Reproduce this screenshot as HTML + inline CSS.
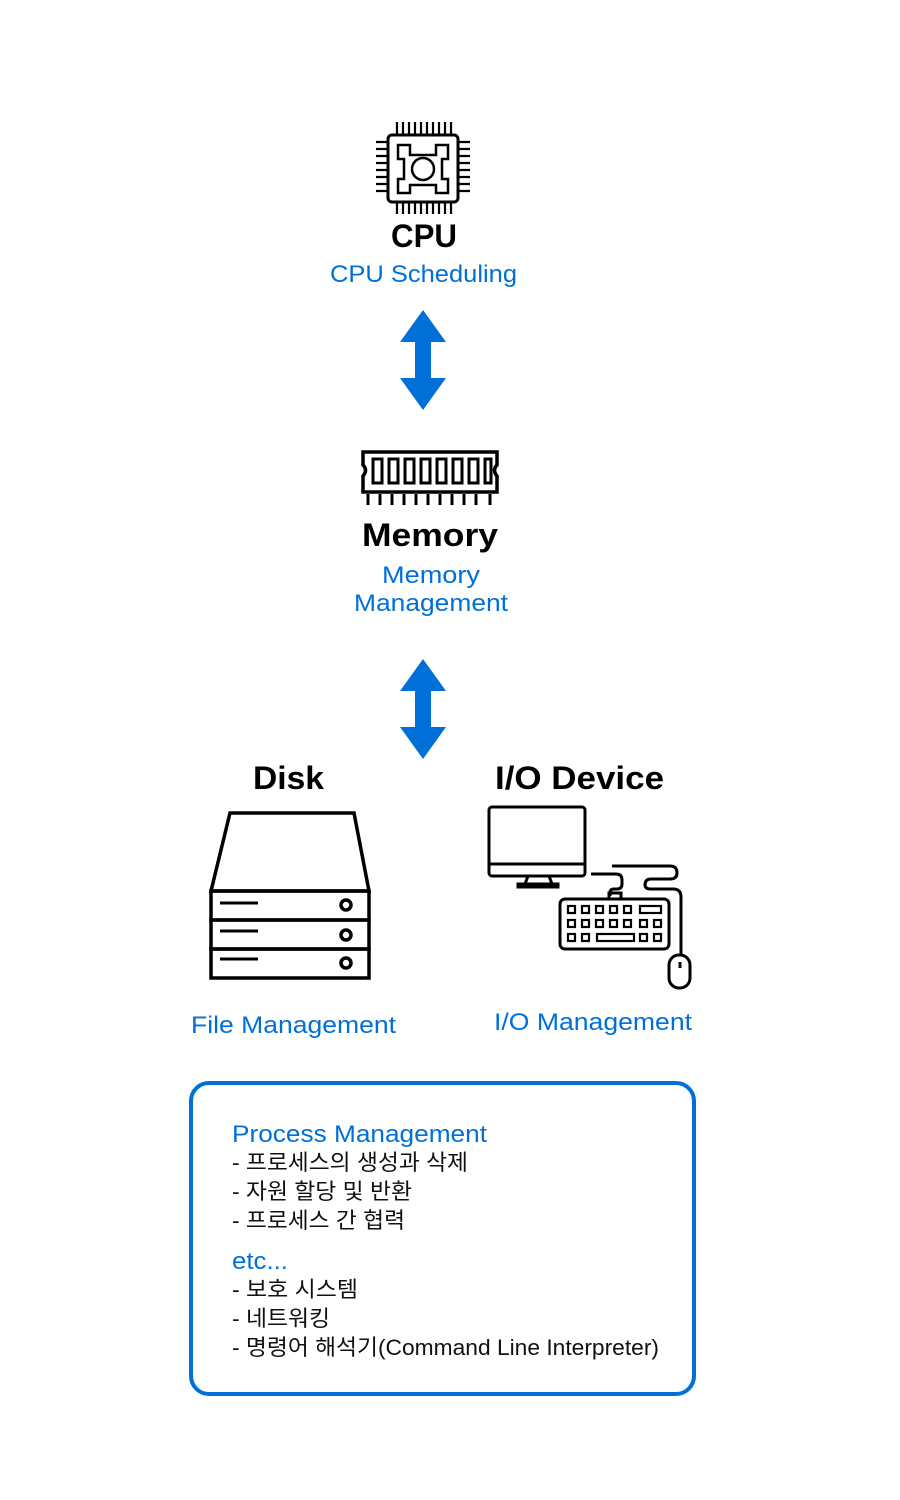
<!DOCTYPE html>
<html><head><meta charset="utf-8"><style>
html,body{margin:0;padding:0;background:#fff;width:900px;height:1500px;overflow:hidden}
svg text{font-family:"Liberation Sans","Noto Sans CJK KR",sans-serif}
</style></head><body>
<svg width="900" height="1500" viewBox="0 0 900 1500" xmlns="http://www.w3.org/2000/svg">
<!-- CPU icon -->
<g fill="none" stroke="#000" stroke-width="3">
<rect x="388" y="135" width="70" height="67" rx="4"/>
<path d="M398 145 h12 v10 h26 v-10 h12 v14 h-6 v20 h6 v14 h-12 v-8 h-26 v8 h-12 v-14 h6 v-20 h-6 z" stroke-width="2.5"/>
<circle cx="423" cy="169" r="11" stroke-width="2.5"/>
</g>
<g stroke="#000" stroke-width="2.2">
<path d="M397 122v12M403 122v12M409 122v12M415 122v12M421 122v12M427 122v12M433 122v12M439 122v12M445 122v12M451 122v12"/>
<path d="M397 203v11M403 203v11M409 203v11M415 203v11M421 203v11M427 203v11M433 203v11M439 203v11M445 203v11M451 203v11"/>
<path d="M376 142h12M376 149h12M376 156h12M376 163h12M376 170h12M376 177h12M376 184h12M376 191h12"/>
<path d="M458 142h12M458 149h12M458 156h12M458 163h12M458 170h12M458 177h12M458 184h12M458 191h12"/>
</g>
<text x="391" y="247" font-size="32" font-weight="bold" textLength="66" lengthAdjust="spacingAndGlyphs">CPU</text>
<text x="330" y="282" font-size="24" fill="#0070d8" textLength="187" lengthAdjust="spacingAndGlyphs">CPU Scheduling</text>
<!-- arrows -->
<path d="M423 310 L446 342 L431 342 L431 378 L446 378 L423 410 L400 378 L415 378 L415 342 L400 342 Z" fill="#0070d8"/>
<path d="M423 659 L446 691 L431 691 L431 727 L446 727 L423 759 L400 727 L415 727 L415 691 L400 691 Z" fill="#0070d8"/>
<!-- Memory icon -->
<path d="M363 452 H497 V465 Q492 470 497 476 V492 H363 V476 Q368 470 363 465 Z" fill="none" stroke="#000" stroke-width="3.5"/>
<g fill="none" stroke="#000" stroke-width="3">
<rect x="373" y="459" width="9" height="24"/><rect x="389" y="459" width="9" height="24"/><rect x="405" y="459" width="9" height="24"/><rect x="421" y="459" width="9" height="24"/><rect x="437" y="459" width="9" height="24"/><rect x="453" y="459" width="9" height="24"/><rect x="469" y="459" width="9" height="24"/><rect x="485" y="459" width="6" height="24"/>
</g>
<g stroke="#000" stroke-width="3">
<path d="M368 494v11M380 494v11M392 494v11M404 494v11M416 494v11M428 494v11M440 494v11M452 494v11M464 494v11M476 494v11M490 494v11"/>
</g>
<text x="362" y="546" font-size="32" font-weight="bold" textLength="136" lengthAdjust="spacingAndGlyphs">Memory</text>
<text x="382" y="583" font-size="24" fill="#0070d8" textLength="98" lengthAdjust="spacingAndGlyphs">Memory</text>
<text x="354" y="611" font-size="24" fill="#0070d8" textLength="154" lengthAdjust="spacingAndGlyphs">Management</text>
<!-- Disk -->
<text x="253" y="789" font-size="32" font-weight="bold" textLength="71" lengthAdjust="spacingAndGlyphs">Disk</text>
<g fill="none" stroke="#000" stroke-width="3.5">
<path d="M230 813 H354 L369 891 H211 Z"/>
<rect x="211" y="891" width="158" height="29"/>
<rect x="211" y="920" width="158" height="29"/>
<rect x="211" y="949" width="158" height="29"/>
<circle cx="346" cy="905" r="5"/><circle cx="346" cy="935" r="5"/><circle cx="346" cy="963" r="5"/>
</g>
<g stroke="#000" stroke-width="3"><path d="M220 903h38M220 931h38M220 959h38"/></g>
<!-- I/O -->
<text x="495" y="789" font-size="32" font-weight="bold" textLength="169" lengthAdjust="spacingAndGlyphs">I/O Device</text>
<g fill="none" stroke="#000" stroke-width="3">
<rect x="489" y="807" width="96" height="69" rx="3"/>
<path d="M489 864h96"/>
<path d="M528 876 l-3 8 M549 876 l3 8"/>
<rect x="518" y="884" width="40" height="3"/>
<path d="M591 874h25 q6 0 6 6 v4 q0 5 -5 5 h-3 q-4 0 -4 4 v3"/>
<rect x="609" y="893" width="12" height="6"/>
<path d="M612 866h58 q7 0 7 7 q0 6 -7 6 h-19 q-6 0 -6 6 q0 4 6 4 h22 q8 0 8 8 v58"/>
<rect x="560" y="899" width="109" height="50" rx="5"/>
<rect x="669" y="955" width="21" height="33" rx="10"/>
<path d="M680 962v6"/>
</g>
<g fill="none" stroke="#000" stroke-width="2.2">
<rect x="568" y="906" width="7" height="7"/><rect x="582" y="906" width="7" height="7"/><rect x="596" y="906" width="7" height="7"/><rect x="610" y="906" width="7" height="7"/><rect x="624" y="906" width="7" height="7"/><rect x="640" y="906" width="21" height="7"/>
<rect x="568" y="920" width="7" height="7"/><rect x="582" y="920" width="7" height="7"/><rect x="596" y="920" width="7" height="7"/><rect x="610" y="920" width="7" height="7"/><rect x="624" y="920" width="7" height="7"/><rect x="640" y="920" width="7" height="7"/><rect x="654" y="920" width="7" height="7"/>
<rect x="568" y="934" width="7" height="7"/><rect x="582" y="934" width="7" height="7"/><rect x="597" y="934" width="37" height="7"/><rect x="640" y="934" width="7" height="7"/><rect x="654" y="934" width="7" height="7"/>
</g>
<text x="191" y="1033" font-size="24" fill="#0070d8" textLength="205" lengthAdjust="spacingAndGlyphs">File Management</text>
<text x="494" y="1030" font-size="24" fill="#0070d8" textLength="198" lengthAdjust="spacingAndGlyphs">I/O Management</text>
<!-- box -->
<rect x="191" y="1083" width="503" height="311" rx="18" fill="none" stroke="#0070d8" stroke-width="4"/>
<text x="232" y="1142" font-size="24" fill="#0070d8" textLength="255" lengthAdjust="spacingAndGlyphs">Process Management</text>
<g font-size="22" fill="#111">
<text x="232" y="1170" textLength="236" lengthAdjust="spacingAndGlyphs">- 프로세스의 생성과 삭제</text>
<text x="232" y="1199" textLength="180" lengthAdjust="spacingAndGlyphs">- 자원 할당 및 반환</text>
<text x="232" y="1228" textLength="173" lengthAdjust="spacingAndGlyphs">- 프로세스 간 협력</text>
<text x="232" y="1297" textLength="126" lengthAdjust="spacingAndGlyphs">- 보호 시스템</text>
<text x="232" y="1326" textLength="98" lengthAdjust="spacingAndGlyphs">- 네트워킹</text>
<text x="232" y="1355" textLength="427" lengthAdjust="spacingAndGlyphs">- 명령어 해석기(Command Line Interpreter)</text>
</g>
<text x="232" y="1269" font-size="24" fill="#0070d8" textLength="56" lengthAdjust="spacingAndGlyphs">etc...</text>
</svg>
</body></html>
